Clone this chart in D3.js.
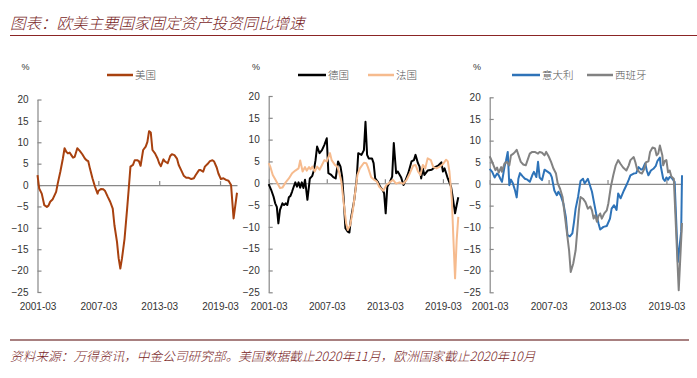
<!DOCTYPE html>
<html><head><meta charset="utf-8">
<script src="https://cdn.jsdelivr.net/npm/d3@7"></script>
<style>body{margin:0;background:#fff} svg{display:block}</style>
</head><body><svg id="c" width="697" height="378"></svg>
<script>
const titleText = "图表：欧美主要国家固定资产投资同比增速";
const sourceText = "资料来源：万得资讯，中金公司研究部。美国数据截止2020年11月，欧洲国家截止2020年10月";
const yTicks = [20,15,10,5,0,-5,-10,-15,-20,-25];
const xTickLabels = ["2001-03","2007-03","2013-03","2019-03"];

const usDates = ["2001-03","2001-05","2001-08","2001-11","2002-02","2002-04","2002-06","2002-09","2003-01","2003-03","2003-06","2003-09","2003-11","2004-01","2004-03","2004-05","2004-07","2004-09","2004-11","2005-02","2005-05","2005-08","2005-11","2006-01","2006-03","2006-05","2006-08","2006-11","2007-02","2007-03","2007-06","2007-09","2007-11","2008-02","2008-05","2008-08","2008-10","2009-01","2009-03","2009-05","2009-07","2009-10","2010-01","2010-03","2010-05","2010-08","2010-10","2011-01","2011-03","2011-05","2011-08","2011-11","2012-01","2012-03","2012-05","2012-07","2012-10","2013-01","2013-03","2013-05","2013-08","2013-10","2014-01","2014-04","2014-06","2014-09","2014-12","2015-02","2015-05","2015-08","2015-11","2016-02","2016-05","2016-08","2016-10","2017-02","2017-04","2017-07","2017-09","2018-01","2018-03","2018-06","2018-08","2018-11","2019-01","2019-04","2019-07","2019-10","2020-01","2020-04","2020-07","2020-11"];
const usValues = [2.3,-0.8,-2.0,-4.7,-5.1,-4.8,-3.9,-3.3,-1.6,0.4,3.1,6.2,8.6,7.8,7.4,7.6,7.0,6.4,6.6,8.6,8.0,7.2,6.2,5.8,5.6,3.9,1.6,-0.4,-2.0,-1.4,-0.9,-1.0,-1.4,-2.7,-3.9,-5.5,-9.4,-13.3,-17.1,-19.5,-17.1,-12.5,-5.5,-0.8,4.3,4.7,5.8,5.8,5.6,4.5,8.2,9.0,10.1,12.6,12.3,8.2,7.4,6.2,5.1,4.4,6.0,5.5,5.1,6.8,7.2,7.0,6.2,4.7,3.5,2.2,1.7,1.7,1.4,1.6,2.3,3.5,3.5,3.1,4.3,5.1,5.6,5.8,5.5,4.1,2.7,1.4,1.6,1.2,1.0,0.0,-7.8,-1.8];

const deDates = ["2001-03","2001-06","2001-09","2001-11","2002-01","2002-03","2002-05","2002-08","2002-10","2002-12","2003-02","2003-04","2003-06","2003-08","2003-10","2003-12","2004-02","2004-04","2004-06","2004-08","2004-10","2004-12","2005-03","2005-06","2005-09","2005-11","2006-01","2006-03","2006-06","2006-09","2006-12","2007-03","2007-05","2007-08","2007-11","2008-02","2008-05","2008-08","2008-10","2008-12","2009-02","2009-05","2009-07","2009-09","2010-01","2010-04","2010-06","2010-10","2011-01","2011-03","2011-05","2011-07","2011-11","2012-01","2012-03","2012-06","2012-09","2012-12","2013-02","2013-04","2013-06","2013-09","2013-12","2014-02","2014-05","2014-07","2014-11","2015-02","2015-04","2015-08","2015-12","2016-03","2016-05","2016-08","2016-10","2016-12","2017-02","2017-04","2017-08","2018-01","2018-05","2018-09","2019-01","2019-03","2019-05","2019-07","2019-09","2020-01","2020-03","2020-06","2020-08","2020-10"];
const deValues = [-0.2,-1.5,-3.1,-4.6,-5.4,-9.2,-6.1,-4.6,-5.0,-4.6,-5.0,-3.2,-2.9,-1.9,-0.8,0.2,-0.8,0.2,-1.0,0.2,-1.1,0.8,-3.8,1.1,1.7,3.0,5.3,8.4,6.9,7.6,8.8,10.3,2.3,2.0,1.4,1.1,5.0,3.8,1.5,-3.8,-10.3,-11.1,-11.3,-8.0,-3.8,0.8,6.9,6.5,7.6,14.1,6.5,5.7,5.7,4.6,1.1,0.4,-0.8,-1.5,-2.3,-6.9,-0.8,0.2,1.5,9.2,2.3,2.7,1.4,-0.4,0.4,2.3,5.0,5.3,6.5,4.6,3.8,1.1,3.4,1.9,2.9,3.1,3.7,4.0,4.8,2.7,3.4,2.3,1.1,-0.8,-3.1,-6.9,-5.0,-3.2];

const frDates = ["2001-03","2001-05","2001-08","2001-11","2002-03","2002-05","2002-08","2002-12","2003-04","2003-08","2003-12","2004-04","2004-06","2004-09","2004-12","2005-02","2005-05","2005-07","2005-09","2005-12","2006-03","2006-06","2006-09","2006-12","2007-03","2007-07","2007-09","2008-01","2008-04","2008-06","2008-09","2008-12","2009-03","2009-05","2009-08","2009-11","2010-02","2010-05","2010-08","2011-01","2011-04","2011-06","2011-10","2012-01","2012-05","2012-08","2013-01","2013-05","2013-09","2014-01","2014-05","2014-09","2015-02","2015-06","2015-10","2016-02","2016-05","2016-08","2016-11","2017-02","2017-05","2017-08","2017-12","2018-03","2018-07","2018-11","2019-03","2019-07","2019-09","2019-11","2020-02","2020-04","2020-06","2020-08","2020-10"];
const frValues = [4.6,3.8,1.9,0.9,-0.4,-1.1,-1.0,0.2,1.1,2.3,2.9,3.4,5.2,2.7,3.7,2.9,3.7,3.2,3.8,2.7,3.8,3.1,4.2,5.3,5.0,6.9,5.3,4.2,3.8,2.7,0.4,-4.6,-9.2,-10.7,-9.6,-6.5,-2.3,1.9,3.4,4.7,4.6,3.7,1.4,0.9,0.4,-0.8,-1.7,-0.4,0.2,0.8,-0.1,0.2,-0.1,0.8,2.3,4.0,4.2,2.7,1.9,4.2,3.4,5.7,5.3,3.7,3.4,3.8,4.4,5.4,5.0,2.7,-3.8,-13.0,-21.8,-13.0,-7.7];

const itDates = ["2001-03","2001-06","2001-09","2001-12","2002-02","2002-04","2002-06","2002-09","2002-11","2003-01","2003-03","2003-05","2003-07","2003-10","2003-12","2004-02","2004-04","2004-07","2004-10","2005-01","2005-04","2005-07","2005-09","2005-12","2006-02","2006-04","2006-07","2006-10","2007-02","2007-05","2007-07","2007-10","2008-01","2008-03","2008-06","2008-09","2008-12","2009-02","2009-05","2009-08","2009-10","2009-12","2010-03","2010-06","2010-09","2010-11","2011-03","2011-05","2011-08","2011-10","2012-01","2012-04","2012-06","2012-10","2013-02","2013-06","2013-08","2013-11","2014-02","2014-04","2014-07","2014-11","2015-02","2015-05","2015-07","2015-11","2016-02","2016-05","2016-08","2016-10","2017-01","2017-03","2017-05","2017-08","2017-11","2018-02","2018-04","2018-07","2018-08","2018-11","2019-01","2019-03","2019-05","2019-07","2019-09","2020-01","2020-05","2020-09","2020-10"];
const itValues = [3.5,2.8,1.5,2.4,2.0,1.2,0.5,3.9,5.5,7.4,-0.3,1.0,0.3,-1.5,-3.1,1.2,2.5,1.8,1.2,1.0,0.5,2.0,2.8,1.6,5.1,1.5,0.9,3.3,2.8,2.4,1.5,-1.5,-2.6,-1.8,-2.8,-4.5,-7.6,-11.8,-12.1,-11.4,-8.8,-5.7,-3.0,0.7,1.2,0.1,1.2,0.0,-1.8,-3.8,-6.8,-9.1,-10.5,-9.9,-9.7,-8.0,-5.7,-4.9,-6.0,-2.2,-3.3,-1.5,-0.3,1.0,2.0,2.4,2.5,3.9,3.3,3.5,4.8,3.1,2.0,3.1,3.5,4.2,5.3,6.1,4.2,1.2,0.7,1.5,1.0,1.6,1.5,0.5,-18.0,-11.0,2.0];

const esDates = ["2001-03","2001-06","2001-10","2001-12","2002-02","2002-05","2002-06","2002-09","2002-12","2003-03","2003-05","2003-08","2003-10","2003-12","2004-03","2004-05","2004-08","2004-11","2005-01","2005-04","2005-07","2005-10","2006-02","2006-04","2006-07","2006-10","2006-12","2007-03","2007-06","2007-09","2007-12","2008-02","2008-05","2008-08","2008-10","2009-01","2009-04","2009-06","2009-09","2009-12","2010-02","2010-04","2010-06","2010-09","2010-12","2011-03","2011-06","2011-08","2011-10","2011-12","2012-02","2012-04","2012-06","2012-08","2012-11","2013-02","2013-04","2013-07","2013-10","2014-01","2014-04","2014-07","2014-10","2015-02","2015-05","2015-07","2015-11","2016-01","2016-03","2016-06","2016-09","2016-12","2017-02","2017-05","2017-07","2017-10","2018-01","2018-03","2018-05","2018-07","2018-10","2018-11","2019-01","2019-03","2019-05","2019-07","2019-09","2019-12","2020-06","2020-10"];
const esValues = [6.4,5.1,3.2,3.8,2.6,3.9,2.8,4.7,5.1,4.3,6.6,7.0,7.4,7.9,6.2,5.1,4.5,4.3,5.4,7.0,7.4,7.4,7.0,7.4,7.2,6.6,7.4,6.4,5.1,3.5,2.4,0.2,-1.1,-3.0,-6.1,-10.7,-15.3,-20.3,-18.4,-15.3,-10.7,-6.1,-3.0,-3.4,-4.2,-5.7,-5.2,-6.1,-8.0,-7.2,-8.7,-7.4,-6.8,-8.0,-6.8,-6.1,-4.5,-0.7,2.0,4.3,5.5,4.6,3.8,3.1,4.3,5.5,6.2,5.0,3.5,2.7,2.4,3.5,5.0,5.2,7.4,8.4,8.2,6.6,7.0,8.9,6.6,4.3,5.3,5.5,2.7,3.1,1.7,1.2,-24.5,-9.0];

const parse = d3.timeParse("%Y-%m");
const svg = d3.select("#c");
const CJK = "'Noto Sans CJK SC','Noto Sans',sans-serif";
const NUM = "'Liberation Sans',Arial,sans-serif";
const axisColor = "#888888";

// Title
svg.append("text").attr("x",10).attr("y",29).text(titleText)
  .attr("font-family",CJK).attr("font-style","italic").attr("font-weight",300)
  .attr("font-size",15.5).attr("fill","#7a1f1f");
svg.append("line").attr("x1",10).attr("x2",697).attr("y1",35.5).attr("y2",35.5)
  .attr("stroke","#8b2525").attr("stroke-width",1);

// Footer
svg.append("line").attr("x1",10).attr("x2",689).attr("y1",340).attr("y2",340)
  .attr("stroke","#a88080").attr("stroke-width",2);
svg.append("text").attr("x",10).attr("y",361).text(sourceText)
  .attr("font-family",CJK).attr("font-style","italic").attr("font-weight",300)
  .attr("font-size",12.7).attr("fill","#7a1f1f");

const panels = [
  {x0:37.5, x1:237, yTop:99.5, yBot:292, end:"2020-11", pctX:21.5,
   series:[{name:"美国", dates:usDates, values:usValues, color:"#a8410f", lx:[107,133]}]},
  {x0:268.7, x1:458.3, yTop:96, yBot:292.3, end:"2020-10", pctX:252,
   series:[{name:"德国", dates:deDates, values:deValues, color:"#000000", lx:[298,326]},
           {name:"法国", dates:frDates, values:frValues, color:"#f6bb8e", lx:[368,394]}]},
  {x0:489.7, x1:682, yTop:97.3, yBot:292.3, end:"2020-10", pctX:473,
   series:[{name:"意大利", dates:itDates, values:itValues, color:"#2e73b8", lx:[512,540]},
           {name:"西班牙", dates:esDates, values:esValues, color:"#828282", lx:[587,613]}]}
];

panels.forEach(p => {
  const g = svg.append("g");
  const x = d3.scaleTime().domain([parse("2001-03"), parse(p.end)]).range([p.x0, p.x1]);
  const y = d3.scaleLinear().domain([-25,20]).range([p.yBot, p.yTop]);

  const ya = g.append("g").attr("transform",`translate(${p.x0},0)`)
    .call(d3.axisLeft(y).tickValues(yTicks).tickSize(-4).tickSizeOuter(0).tickPadding(9).tickFormat(d3.format("d")));
  ya.selectAll("path,line").attr("stroke",axisColor).attr("stroke-width",1.2);
  ya.selectAll("text").attr("font-family",NUM).attr("font-size",10).attr("fill","#333");

  const tickDates = xTickLabels.map(parse);
  const za = g.append("g").attr("transform",`translate(0,${y(0)})`)
    .call(d3.axisBottom(x).tickValues(tickDates).tickSize(-4).tickSizeOuter(0).tickFormat(""));
  za.selectAll("path,line").attr("stroke",axisColor).attr("stroke-width",1.2);

  const la = g.append("g").attr("transform",`translate(0,303)`)
    .call(d3.axisBottom(x).tickValues(tickDates).tickSize(0).tickPadding(0).tickFormat(d3.timeFormat("%Y-%m")));
  la.select(".domain").remove();
  la.selectAll("text").attr("font-family",NUM).attr("font-size",10).attr("fill","#333");

  g.append("text").attr("x",p.pctX).attr("y",70).text("%")
    .attr("font-family",NUM).attr("font-size",9).attr("fill","#333");

  const line = d3.line().x(d => x(d[0])).y(d => y(d[1]));
  p.series.forEach(s => {
    const data = s.dates.map((d,i) => [parse(d), s.values[i]]);
    g.append("path").datum(data).attr("d",line).attr("fill","none")
      .attr("stroke",s.color).attr("stroke-width",2).attr("stroke-linejoin","round");
    g.append("line").attr("x1",s.lx[0]).attr("x2",s.lx[1]).attr("y1",75).attr("y2",75)
      .attr("stroke",s.color).attr("stroke-width",2.5);
    g.append("text").attr("x",s.lx[1]+2).attr("y",78.8).text(s.name)
      .attr("font-family",CJK).attr("font-weight",300).attr("font-size",10.5).attr("fill","#555");
  });
});
</script></body></html>
